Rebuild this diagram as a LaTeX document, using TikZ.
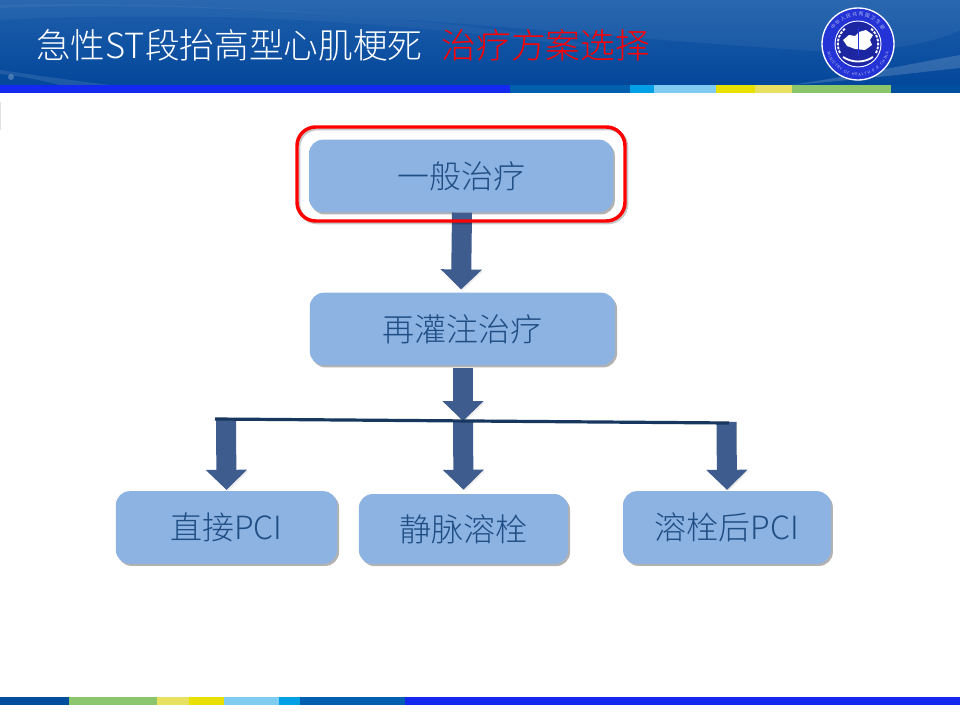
\documentclass[tikz,border=0pt]{standalone}
\usepackage{fontspec}
\setmainfont{Noto Sans CJK SC}[UprightFont=* Light]
\usetikzlibrary{arrows.meta,shadows,decorations.text}
\definecolor{boxblue}{HTML}{8DB3E2}
\definecolor{textblue}{HTML}{1F4E85}
\definecolor{arrowblue}{HTML}{3F5C8F}
\definecolor{busblue}{HTML}{17375E}
\definecolor{bandblue}{HTML}{1428F0}
\definecolor{banddeep}{HTML}{0060B0}
\definecolor{bandcyan}{HTML}{00A0E6}
\definecolor{bandsky}{HTML}{7FCCF0}
\definecolor{bandyellow}{HTML}{E8E000}
\definecolor{bandpale}{HTML}{E8E060}
\definecolor{bandgreen}{HTML}{8CC66C}
\definecolor{banddark}{HTML}{004F9E}
\definecolor{headtop}{HTML}{1F5FAC}
\definecolor{headlow}{HTML}{03479A}
\definecolor{logoblue}{HTML}{2433D6}

\begin{document}
\begin{tikzpicture}[x=0.75pt,y=-0.75pt,font=\fontsize{24pt}{28pt}\selectfont,
    planbox/.style={fill=boxblue,text=textblue,rounded corners=10.5pt,inner sep=0pt,
        minimum height=54.5pt,
        drop shadow={shadow xshift=1.4pt,shadow yshift=-1.6pt,fill=black,opacity=.3}},
    markframe/.style={draw=red,line width=2.6pt,rounded corners=14pt,inner sep=0pt,
        minimum width=246pt,minimum height=70.5pt,
        preaction={draw=black,draw opacity=.22,transform canvas={shift={(1.2pt,-1.2pt)}}}},
    fatarrow/.style={draw=arrowblue,line width=15pt,
        -{Triangle[length=15pt,width=30pt,fill=arrowblue]},
        preaction={draw=black,draw opacity=.08,
            transform canvas={shift={(1pt,-1pt)}},
            -{Triangle[length=15pt,width=30pt]}}}]
  \useasboundingbox (0,0) rectangle (960,720);
  \fill[white] (0,0) rectangle (960,720);
  \fill[black!12] (0,102) rectangle (1,130);
  % header
  \shade[top color=headtop,bottom color=headlow] (0,0) rectangle (960,86);
  \fill[white,opacity=.05] (0,8) .. controls (250,-2) and (500,30) .. (800,50) .. controls (870,55) and (930,45) .. (960,30) -- (960,0) -- (0,0) -- cycle;
  \fill[white,opacity=.04] (0,20) .. controls (200,10) and (400,20) .. (620,52) .. controls (500,20) and (200,0) .. (0,5) -- cycle;
  \fill[white,opacity=.16] (790,85) .. controls (860,75) and (920,62) .. (960,55) -- (960,68) .. controls (920,72) and (860,80) .. (790,85) -- cycle;
  \fill[white,opacity=.10] (0,70) .. controls (40,76) and (70,80) .. (110,85) -- (60,85) .. controls (40,80) and (20,76) .. (0,74) -- cycle;
  \fill[white,opacity=.25] (11,77) circle (3);
  \fill[bandblue] (0,85) rectangle (510,93);
  \fill[banddeep] (510,85) rectangle (630,93);
  \fill[bandcyan] (630,85) rectangle (654,93);
  \fill[bandsky] (654,85) rectangle (716,93);
  \fill[bandyellow] (716,85) rectangle (755,93);
  \fill[bandpale] (755,85) rectangle (792,93);
  \fill[bandgreen] (792,85) rectangle (891,93);
  \fill[banddark] (891,85) rectangle (960,93);
  \fill[banddark] (0,697) rectangle (69,705);
  \fill[bandgreen] (69,697) rectangle (157,705);
  \fill[bandpale] (157,697) rectangle (189,705);
  \fill[bandyellow] (189,697) rectangle (224,705);
  \fill[bandsky] (224,697) rectangle (279,705);
  \fill[bandcyan] (279,697) rectangle (300,705);
  \fill[banddeep] (300,697) rectangle (405,705);
  \fill[bandblue] (405,697) rectangle (960,705);
  \node[anchor=west,inner sep=0pt,font=\fontsize{26pt}{30pt}\selectfont] (title) at (36,45)
    {\textcolor{white}{急性ST段抬高型心肌梗死}\hspace{14.5pt}\textcolor{red}{治疗方案选择}};
  % logo
  \begin{scope}[shift={(858,44)},x=0.75pt,y=0.75pt]
    \fill[logoblue,draw=white,line width=1pt] (0,0) circle (36);
    \draw[white,line width=.7pt] (0,0) circle (23);
    \fill[logoblue!75!black] (0,0) circle (22);
    \draw[white,line width=1.4pt,dash pattern=on 2pt off 1pt] (-18,-9) arc[start angle=207,end angle=130,radius=20];
    \draw[white,line width=1.4pt,dash pattern=on 2pt off 1pt] (18,-9) arc[start angle=-27,end angle=50,radius=20];
    \draw[white,line width=1.4pt] (-15,-13) .. controls (-6,-19) and (6,-19) .. (15,-13);
    \fill[white] (-15,4) -- (-9,9) -- (-3,8) -- (1,12) -- (8,14) -- (15,9) -- (12,4) -- (14,-1) -- (7,-6) -- (-3,-5) -- (-11,-2) -- cycle;
    \draw[logoblue,line width=.5pt] (0,-12) -- (0,17);
    \path[decorate,decoration={text along path,text align={fit to path},
        text={|\fontsize{3.6pt}{5pt}\selectfont\color{white}|中华人民共和国卫生部}}]
        (150:28) arc[start angle=150,end angle=30,radius=28];
    \path[decorate,decoration={text along path,text align={fit to path},
        text={|\fontsize{3pt}{4pt}\selectfont\color{white}|MINISTRY OF HEALTH P.R.CHINA}}]
        (195:32) arc[start angle=195,end angle=345,radius=32];
  \end{scope}
  % boxes
  \node[planbox,minimum width=228pt] (general) at (461,176) {一般治疗};
  \node[planbox,minimum width=229pt] (reperfusion) at (462.5,329) {再灌注治疗};
  \node[planbox,minimum width=166pt] (direct) at (226.5,527.5) {直接PCI};
  \node[planbox,minimum width=157pt,minimum height=52.5pt] (lysis) at (463.5,529) {静脉溶栓};
  \node[planbox,minimum width=156pt] (rescue) at (727,527.5) {溶栓后PCI};
  \coordinate (busL) at (215,419);
  \coordinate (busR) at (729,423);
  \coordinate (busA) at (226,420);
  \coordinate (busB) at (463,421);
  \coordinate (busC) at (726.5,422);
  \draw[fatarrow,shorten >=2.2pt] (general.south) ++(1,0) -- (reperfusion.north -| 461,0);
  \draw[fatarrow] (463,368) -- (busB);
  \draw[fatarrow,shorten >=0.8pt] (busA) -- (direct.north);
  \draw[fatarrow,shorten >=3pt] (busB) -- (lysis.north);
  \draw[fatarrow,shorten >=0.8pt] (busC) -- (rescue.north);
  \draw[busblue,line width=2.4pt] (busL) -- (busR);
  \node[markframe] (mark) at (461,174) {};
\end{tikzpicture}
\end{document}
